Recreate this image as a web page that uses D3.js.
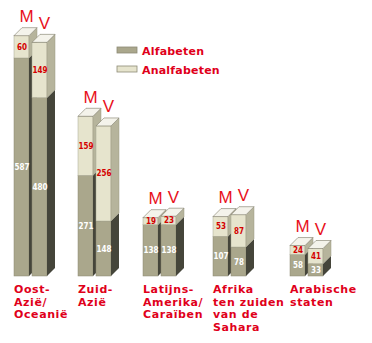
<!DOCTYPE html>
<html>
<head>
<meta charset="utf-8">
<script src="https://cdn.jsdelivr.net/npm/d3@7"></script>
<style>
body { margin: 0; background: #fff; }
</style>
</head>
<body>
<script>
const svgWidth = 372
const svgHeight = 343

const regions = ["Oost-Azië/Oceanië", "Zuid-Azië", "Latijns-Amerika/Caraïben", "Afrika ten zuiden van de Sahara", "Arabische staten"]
const regionLines = [["Oost-", "Azië/", "Oceanië"], ["Zuid-", "Azië"], ["Latijns-", "Amerika/", "Caraïben"], ["Afrika", "ten zuiden", "van de", "Sahara"], ["Arabische", "staten"]]
const sexes = ["M", "V"]
const alfaM = [587, 271, 138, 107, 58]
const analfaM = [60, 159, 19, 53, 24]
const alfaV = [480, 148, 138, 78, 33]
const analfaV = [149, 256, 23, 87, 41]
const legendLabels = ["Alfabeten", "Analfabeten"]

const baseY = 276
const barW = 15
const depth = 8

const colors = {
    alfa: { front: "#aaa78c", side: "#45453a" },
    analfa: { front: "#e6e4cd", side: "#b6b49c", top: "#f4f3eb" }
}

const svg = d3.select("body").append("svg")
    .attr("width", svgWidth)
    .attr("height", svgHeight)

svg.append("rect").attr("width", svgWidth).attr("height", svgHeight).attr("fill", "#fff")

const x = d3.scaleOrdinal()
    .domain(regions)
    .range([14, 78, 143, 213, 290])

const xSex = d3.scaleOrdinal()
    .domain(sexes)
    .range([0, 18])

const y = d3.scaleLinear()
    .domain([0, 700])
    .range([baseY, baseY - 260])

const bars = []
regions.forEach((r, i) => {
    bars.push({ region: r, sex: "M", alfa: alfaM[i], analfa: analfaM[i] })
    bars.push({ region: r, sex: "V", alfa: alfaV[i], analfa: analfaV[i] })
})

function sidePath(x0, y1, y2) {
    return `M${x0 + barW},${y1} L${x0 + barW + depth},${y1 - depth} L${x0 + barW + depth},${y2 - depth} L${x0 + barW},${y2} Z`
}

const barG = svg.append("g")

bars.forEach(d => {
    const x0 = x(d.region) + xSex(d.sex)
    const yMid = y(d.alfa)
    const yTop = y(d.alfa + d.analfa)
    const g = barG.append("g")

    // front faces
    g.append("rect")
        .attr("x", x0).attr("y", yMid)
        .attr("width", barW).attr("height", baseY - yMid)
        .attr("fill", colors.alfa.front)
        .attr("stroke", "#8a8872").attr("stroke-width", 0.5)
    g.append("rect")
        .attr("x", x0).attr("y", yTop)
        .attr("width", barW).attr("height", yMid - yTop)
        .attr("fill", colors.analfa.front)
        .attr("stroke", "#a9a792").attr("stroke-width", 0.5)

    // side faces
    g.append("path")
        .attr("d", sidePath(x0, yMid, baseY))
        .attr("fill", colors.alfa.side)
    g.append("path")
        .attr("d", sidePath(x0, yTop, yMid))
        .attr("fill", colors.analfa.side)
        .attr("stroke", "#9a9882").attr("stroke-width", 0.5)

    // top face
    g.append("path")
        .attr("d", `M${x0},${yTop} L${x0 + barW},${yTop} L${x0 + barW + depth},${yTop - depth} L${x0 + depth},${yTop - depth} Z`)
        .attr("fill", colors.analfa.top)
        .attr("stroke", "#7d7b68").attr("stroke-width", 0.6)

    // values
    g.append("text")
        .attr("x", x0 + barW / 2 + 0.5)
        .attr("y", (yTop + yMid) / 2 + 3)
        .attr("text-anchor", "middle")
        .attr("font-family", "'Liberation Sans Narrow', 'DejaVu Sans Condensed', sans-serif")
        .attr("font-weight", "bold")
        .attr("font-size", 8)
        .attr("fill", "#d40000")
        .text(d.analfa)
    g.append("text")
        .attr("x", x0 + barW / 2 + 0.5)
        .attr("y", (yMid + baseY) / 2 + 3)
        .attr("text-anchor", "middle")
        .attr("font-family", "'Liberation Sans Narrow', 'DejaVu Sans Condensed', sans-serif")
        .attr("font-weight", "bold")
        .attr("font-size", 8)
        .attr("fill", "#ffffff")
        .text(d.alfa)

    // M / V
    g.append("text")
        .attr("x", x0 + barW / 2 + depth / 2 + 1)
        .attr("y", yTop - 13.5)
        .attr("text-anchor", "middle")
        .attr("font-family", "'Liberation Sans', Arial, sans-serif")
        .attr("font-size", 17)
        .attr("fill", "#e8101c")
        .text(d.sex)
})

// region labels
regions.forEach((r, i) => {
    const t = svg.append("text")
        .attr("x", x(r))
        .attr("y", 293)
        .attr("font-family", "'DejaVu Sans', Verdana, sans-serif")
        .attr("font-weight", "bold")
        .attr("font-size", 11)
        .attr("letter-spacing", 0.6)
        .attr("fill", "#e0001a")
    t.selectAll("tspan")
        .data(regionLines[i])
        .join("tspan")
        .attr("x", x(r))
        .attr("dy", (d, j) => j === 0 ? 0 : 12.5)
        .text(d => d)
})

// legend
const legend = svg.append("g").attr("transform", "translate(117, 47)")
legendLabels.forEach((l, i) => {
    const c = i === 0 ? colors.alfa.front : colors.analfa.front
    legend.append("rect")
        .attr("x", 0).attr("y", i * 19)
        .attr("width", 20).attr("height", 6)
        .attr("fill", c)
        .attr("stroke", "#8d8b76").attr("stroke-width", 0.8)
    legend.append("text")
        .attr("x", 25).attr("y", i * 19 + 7.5)
        .attr("font-family", "'DejaVu Sans', Verdana, sans-serif")
        .attr("font-weight", "bold")
        .attr("font-size", 11)
        .attr("letter-spacing", 0.2)
        .attr("fill", "#e0001a")
        .text(l)
})
</script>
</body>
</html>
